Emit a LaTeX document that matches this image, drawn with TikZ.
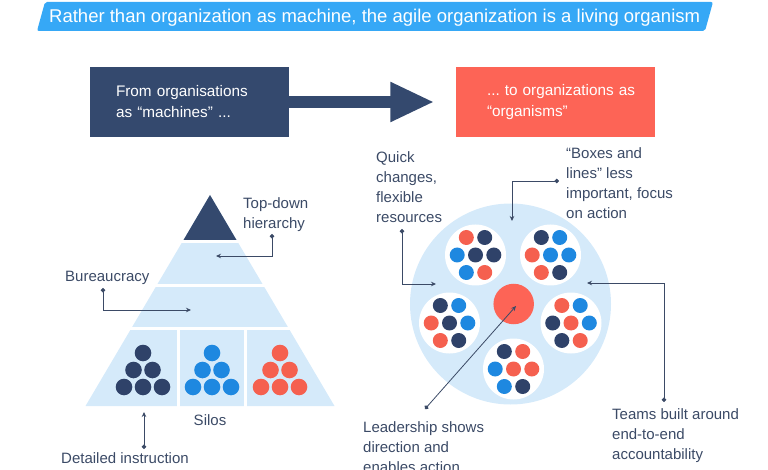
\documentclass[tikz,border=0pt]{standalone}
\usepackage{fontspec}
\setmainfont{Liberation Sans}
\usepackage{tikz}
\usetikzlibrary{arrows.meta, positioning}
\definecolor{banner}{HTML}{36A8F6}
\definecolor{navy}{HTML}{34496E}
\definecolor{organ}{HTML}{FD6456}
\definecolor{pale}{HTML}{D5EAFA}
\definecolor{txt}{HTML}{3B4A66}
\definecolor{dotdark}{HTML}{2F4269}
\definecolor{dotblue}{HTML}{1E88E0}
\definecolor{dotred}{HTML}{F5604F}
\frenchspacing

\begin{document}
\begin{tikzpicture}[x=1pt, y=-1pt,
  lbl/.style={anchor=north west, inner sep=0pt, align=left, text=txt,
    font=\fontsize{15}{20}\selectfont},
  box/.style={minimum width=199pt, minimum height=70pt, inner sep=0pt,
    align=left, text=white, font=\fontsize{15.3}{21}\selectfont},
  conn/.style={draw=txt, line width=0.8pt,
    {Circle[length=4.5pt]}-{Stealth[length=5pt,width=4.5pt]}}]
  \useasboundingbox (0,0) rectangle (768,470);

  % Title banner
  \fill[banner, rounded corners=2pt] (45,2) -- (713,2) -- (705,31) -- (37,31) -- cycle;
  \node[anchor=west, inner sep=0pt, text=white, font=\fontsize{18.5}{22}\selectfont]
    (title) at (49,18) {Rather than organization as machine, the agile organization is a living organism};

  % From / to boxes
  \node[box, fill=navy, text width=147pt] (machines) at (189.5,102)
    {\mbox{From organisations}\\\mbox{as “machines” ...}};
  \node[box, fill=organ, text width=136pt] (organisms) at (555,102)
    {\mbox{... to organizations as}\\\mbox{“organisms”}};
  \draw[navy, line width=12pt, -{Triangle[length=44pt,width=37pt]}, shorten >=21pt]
    (machines) -- (organisms);

  % Pyramid
  \fill[pale] (210,195) -- (334.5,406) -- (85.5,406) -- cycle;
  \fill[navy] (210,195) -- (236.5,240) -- (183.5,240) -- cycle;
  \foreach \gy in {241.5,285.5,328.5}
    \draw[white, line width=3pt] (80,\gy) -- (340,\gy);
  \foreach \gx in {178,245}
    \draw[white, line width=3pt] (\gx,328.5) -- (\gx,407);

  % Silo dots
  \foreach \cx/\col in {143/dotdark, 212/dotblue, 280/dotred}
    \foreach \dx/\dy in {0/353, -9.5/370, 9.5/370, -19/387, 0/387, 19/387}
      \fill[\col] (\cx+\dx,\dy) circle (8.3);

  % Organism
  \fill[pale] (510.5,304) circle (100.5);
  \foreach \tx/\ty/\ca/\cb/\cc/\cd/\ce/\cf/\cg in {
      475.5/255/dotred/dotdark/dotblue/dotdark/dotdark/dotblue/dotred,
      550.5/255/dotdark/dotblue/dotred/dotblue/dotblue/dotred/dotdark,
      449.5/323/dotdark/dotblue/dotred/dotdark/dotblue/dotred/dotdark,
      571/323/dotred/dotblue/dotdark/dotred/dotblue/dotdark/dotred,
      513.5/369/dotdark/dotred/dotblue/dotred/dotred/dotblue/dotdark} {
    \fill[white] (\tx,\ty) circle (30.5);
    \fill[\ca] (\tx-9.2,\ty-17.5) circle (7.5);
    \fill[\cb] (\tx+9.2,\ty-17.5) circle (7.5);
    \fill[\cc] (\tx-18.3,\ty) circle (7.5);
    \fill[\cd] (\tx,\ty) circle (7.5);
    \fill[\ce] (\tx+18.3,\ty) circle (7.5);
    \fill[\cf] (\tx-9.2,\ty+17.5) circle (7.5);
    \fill[\cg] (\tx+9.2,\ty+17.5) circle (7.5);
  }
  \node[circle, fill=organ, minimum size=40.5pt, inner sep=0pt] (lead) at (513.7,304) {};

  % Labels, pyramid side
  \node[lbl] (hier) at (243,197) {Top-down\\hierarchy};
  \node[lbl] (bureau) at (65,271) {Bureaucracy};
  \node[lbl, anchor=north] (silos) at (210,414) {Silos};
  \node[lbl] (detail) at (61,452) {Detailed instruction};

  % Labels, organism side
  \node[lbl] (quick) at (376,151) {Quick\\changes,\\flexible\\resources};
  \node[lbl] (boxes) at (566,147) {“Boxes and\\lines” less\\important, focus\\on action};
  \node[lbl] (leadtxt) at (363,421) {Leadership shows\\direction and\\enables action};
  \node[lbl] (teams) at (612,408) {Teams built around\\end-to-end\\accountability};

  % Connectors
  \coordinate (hierdot) at (272,234);
  \coordinate (hierend) at (216,256);
  \coordinate (bureaudot) at (103,288);
  \coordinate (bureauend) at (191,310);
  \coordinate (detaildot) at (144,449);
  \coordinate (detailend) at (144,412);
  \coordinate (quickdot) at (402,229);
  \coordinate (quickend) at (436,284);
  \coordinate (boxesdot) at (559,181);
  \coordinate (boxesend) at (512,221);
  \coordinate (leaddot) at (425,409);
  \coordinate (leadend) at (516,306);
  \coordinate (teamsdot) at (664,402);
  \coordinate (teamsend) at (587,283);

  \draw[conn] (hierdot) |- (hierend);
  \draw[conn] (bureaudot) |- (bureauend);
  \draw[conn] (detaildot) -- (detailend);
  \draw[conn] (quickdot) |- (quickend);
  \draw[conn] (boxesdot) -| (boxesend);
  \draw[conn] (leaddot) -- (leadend);
  \draw[conn] (teamsdot) |- (teamsend);
\end{tikzpicture}
\end{document}
